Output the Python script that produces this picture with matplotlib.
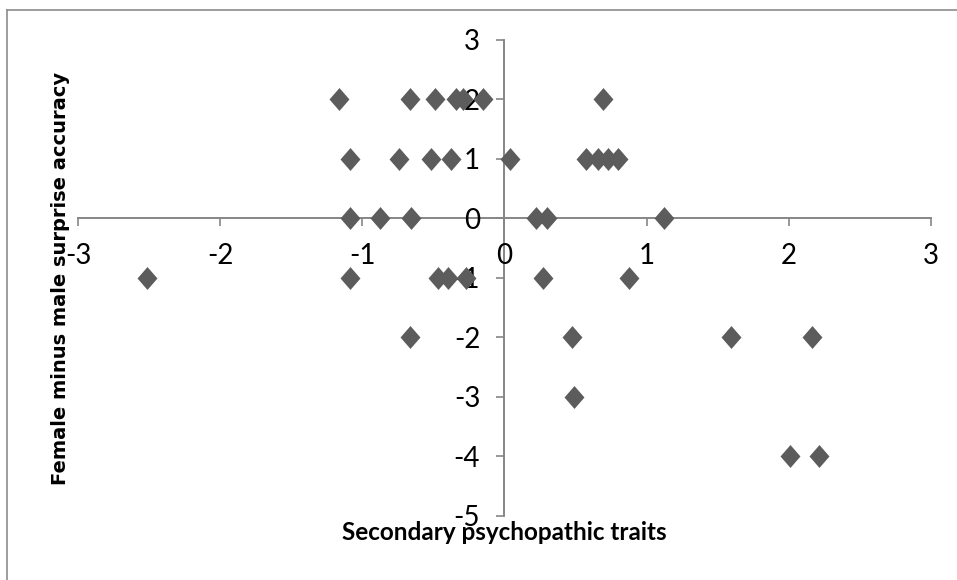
"""
Scatter of secondary psychopathic traits against the female-minus-male
surprise accuracy, drawn with the axes crossing at zero (Excel style).
"""
import matplotlib
matplotlib.use("Agg")
import matplotlib.pyplot as plt
from matplotlib.path import Path
from matplotlib.lines import Line2D

plt.rcParams["font.family"] = ["Lato", "DejaVu Sans"]
plt.rcParams["axes.unicode_minus"] = False

# Points, grouped by their (integer) y value.
traits = [-1.165, -0.668, -0.487, -0.343, -0.294, -0.153, 0.69,
          -1.089, -0.739, -0.514, -0.374, 0.037, 0.576, 0.661, 0.728, 0.798,
          -1.089, -0.878, -0.655, 0.219, 0.302, 1.12,
          -2.515, -1.088, -0.468, -0.40, -0.27, 0.27, 0.876,
          -0.667, 0.477, 1.59, 2.16,
          0.487,
          2.01, 2.21]
accuracy = [2, 2, 2, 2, 2, 2, 2,
            1, 1, 1, 1, 1, 1, 1, 1, 1,
            0, 0, 0, 0, 0, 0,
            -1, -1, -1, -1, -1, -1, -1,
            -2, -2, -2, -2,
            -3,
            -4, -4]

x_ticks = [-3, -2, -1, 0, 1, 2, 3]
y_ticks = [3, 2, 1, 0, -1, -2, -3, -4, -5]

AXIS_GREY = "#868686"
MARKER_GREY = "#5c5c5c"

# Excel's diamond is a touch taller than it is wide.
diamond = Path([(0, 1), (0.87, 0), (0, -1), (-0.87, 0), (0, 1)],
               [Path.MOVETO, Path.LINETO, Path.LINETO, Path.LINETO, Path.CLOSEPOLY])

fig = plt.figure(figsize=(9.57, 5.80), dpi=100)
ax = fig.add_axes([78 / 957, 1 - 515.8 / 580, (931 - 78) / 957, (515.8 - 39.8) / 580])

ax.plot(traits, accuracy, linestyle="none", marker=diamond, markersize=16.5,
        color=MARKER_GREY, markeredgewidth=0, zorder=2, clip_on=False)

ax.set_xlim(-3, 3)
ax.set_ylim(-5, 3)
ax.set_xticks(x_ticks)
ax.set_yticks(y_ticks)
ax.set_xticklabels([str(t) for t in x_ticks])
ax.set_yticklabels([str(t) for t in y_ticks])

# Axes cross at the origin.
ax.spines["left"].set_position(("data", 0))
ax.spines["bottom"].set_position(("data", 0))
ax.spines["top"].set_visible(False)
ax.spines["right"].set_visible(False)
for side in ("left", "bottom"):
    ax.spines[side].set_color(AXIS_GREY)
    ax.spines[side].set_linewidth(1.4)
    ax.spines[side].set_zorder(1.5)

ax.tick_params(axis="both", direction="out", length=5.5, width=1.2,
               colors=AXIS_GREY, labelcolor="black", labelsize=20)
ax.tick_params(axis="x", pad=12)
ax.tick_params(axis="y", pad=12)

fig.text(504.5 / 957, 1 - 533 / 580, "Secondary psychopathic traits",
         ha="center", va="center", fontsize=17.5, fontweight="bold")
fig.text(61 / 957, 1 - 278 / 580, "Female minus male surprise accuracy",
         ha="center", va="center", rotation=90, fontsize=14,
         fontweight="bold", family="DejaVu Sans")

# Chart-area border: only its left and top edges fall inside the picture.
fig.add_artist(Line2D([7 / 957, 7 / 957], [0, 1 - 10 / 580],
                      transform=fig.transFigure, color="#8c8c8c", linewidth=1.2))
fig.add_artist(Line2D([7 / 957, 1], [1 - 10 / 580, 1 - 10 / 580],
                      transform=fig.transFigure, color="#8c8c8c", linewidth=1.2))

fig.savefig("out.png", dpi=100)
